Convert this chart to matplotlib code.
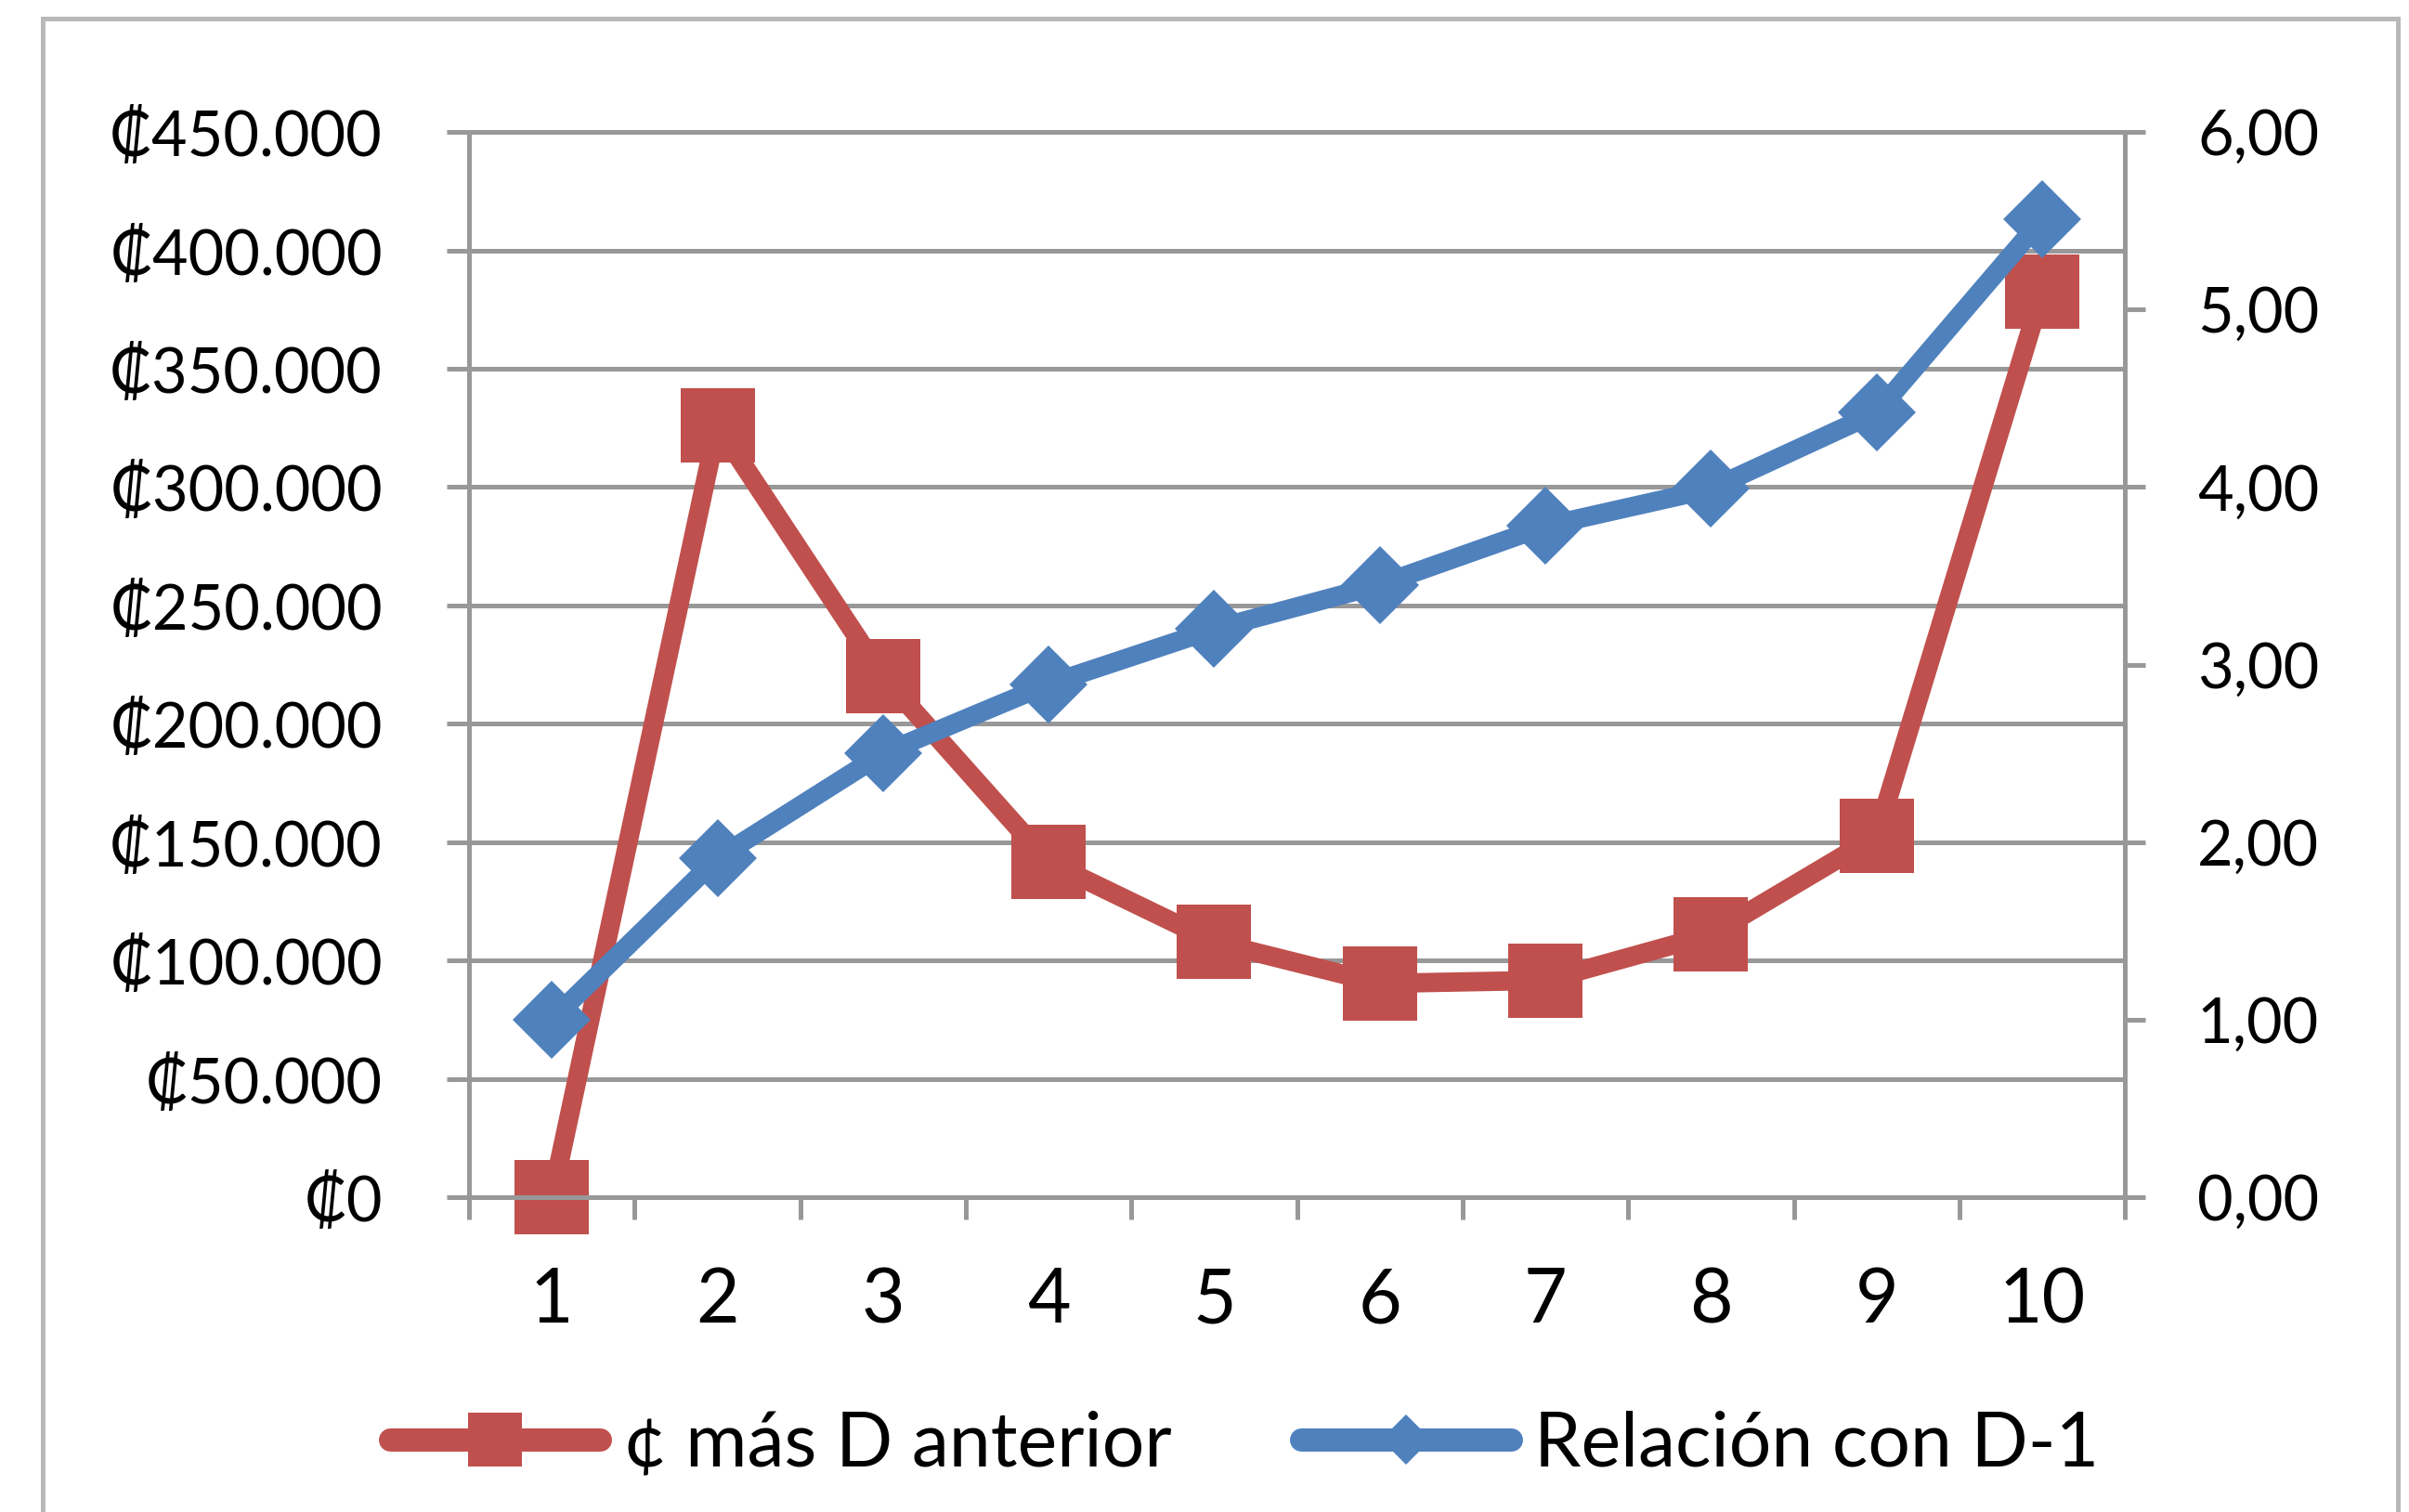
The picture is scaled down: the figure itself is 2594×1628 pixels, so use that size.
import matplotlib
matplotlib.use("Agg")
import matplotlib.pyplot as plt
from matplotlib.lines import Line2D
from matplotlib.patches import Rectangle

plt.rcParams['font.family'] = ['Lato', 'DejaVu Sans']

# data
deciles = [1, 2, 3, 4, 5, 6, 7, 8, 9, 10]
mas_anterior = [0, 326000, 220000, 141600, 107800, 90300, 91600, 111000, 152600, 382500]
relacion = [1.00, 1.91, 2.50, 2.89, 3.20, 3.45, 3.78, 3.99, 4.42, 5.51]

left_ticks = [0, 50000, 100000, 150000, 200000, 250000, 300000, 350000, 400000, 450000]
left_labels = ['₡0', '₡50.000', '₡100.000', '₡150.000', '₡200.000', '₡250.000',
               '₡300.000', '₡350.000', '₡400.000', '₡450.000']
right_ticks = [0, 1, 2, 3, 4, 5, 6]
right_labels = ['0,00', '1,00', '2,00', '3,00', '4,00', '5,00', '6,00']

red = '#C0504D'
blue = '#4F81BD'
gray = '#989898'
fs = 48
fs_big = 58

fig = plt.figure(figsize=(25.94, 16.28), dpi=100)
ax = fig.add_axes([0.1947, 0.2082, 0.6874, 0.7045])
ax.set_xlim(0.5, 10.5)
ax.set_ylim(0, 450000)

# gridlines + axis lines
ax.set_yticks(left_ticks)
ax.set_yticklabels(left_labels)
ax.yaxis.grid(True, color=gray, lw=3.6)
ax.set_axisbelow(True)
for s in ['left', 'bottom', 'top', 'right']:
    ax.spines[s].set_color(gray)
    ax.spines[s].set_linewidth(3.6)

ax.set_xticks(deciles)
ax.set_xticklabels([str(d) for d in deciles])
ax.set_xticks([d - 0.5 for d in deciles] + [10.5], minor=True)
ax.tick_params(axis='x', which='major', length=0, pad=54, labelsize=fs_big)
ax.tick_params(axis='x', which='minor', length=17, width=3.6, color=gray, direction='out')
ax.tick_params(axis='y', length=17, width=3.6, color=gray, pad=50, labelsize=fs)

ax.plot(deciles, mas_anterior, color=red, lw=15, marker='s', ms=58, mec=red, mew=0,
        solid_joinstyle='round', solid_capstyle='round', clip_on=False, zorder=3)

ax2 = ax.twinx()
ax2.set_ylim(0, 6)
ax2.set_yticks(right_ticks)
ax2.set_yticklabels(right_labels)
ax2.tick_params(axis='y', length=16, width=3.6, color=gray, pad=40, labelsize=fs)
for s in ['left', 'bottom', 'top', 'right']:
    ax2.spines[s].set_color(gray)
    ax2.spines[s].set_linewidth(3.6)

ax2.plot(deciles, relacion, color=blue, lw=15, marker='D', ms=43, mec=blue, mew=0,
         solid_joinstyle='round', solid_capstyle='round', clip_on=False, zorder=3)

handles = [
    Line2D([], [], color=red, lw=18, marker='s', ms=42, mew=0, solid_capstyle='round'),
    Line2D([], [], color=blue, lw=18, marker='D', ms=28, mew=0, solid_capstyle='round'),
]
fig.legend(handles, ['¢ más D anterior', 'Relación con D-1'], loc='center',
           bbox_to_anchor=(0.5166, 0.0448), ncol=2, frameon=False, fontsize=fs_big,
           handlelength=2.8, handletextpad=0.31, columnspacing=1.74)

# outer chart border
fig.patches.append(Rectangle((46 / 2594, -0.1), (2582 - 46) / 2594, 1.1 - 20 / 1628,
                             transform=fig.transFigure, fill=False, ec='#b8b8b8', lw=3.6))

fig.savefig('out.png', dpi=100)
